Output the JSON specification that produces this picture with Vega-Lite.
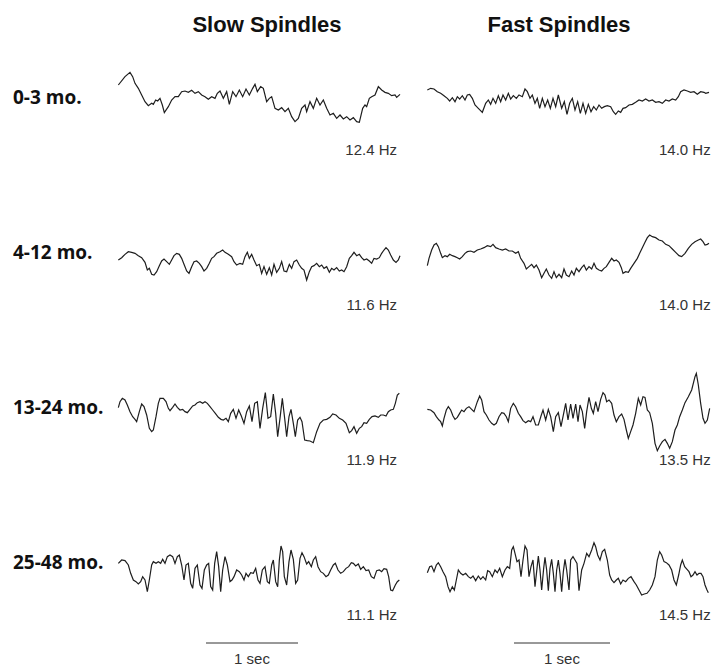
{
"$schema": "https://vega.github.io/schema/vega-lite/v6.json",
"background": "white",
"padding": {"left": 13, "top": 14, "right": 0, "bottom": 0},
"config": {"view": {"stroke": null}, "header": {"labelFont": "Liberation Sans", "labelFontWeight": "bold", "labelFontSize": 22, "labelPadding": 6, "labelColor": "#111"}},
"datasets": {"eeg": [
{"age":"0-3 mo.","band":"Slow","hz":"12.4 Hz"},
{"age":"0-3 mo.","band":"Fast","hz":"14.0 Hz"},
{"age":"4-12 mo.","band":"Slow","hz":"11.6 Hz"},
{"age":"4-12 mo.","band":"Fast","hz":"14.0 Hz"},
{"age":"13-24 mo.","band":"Slow","hz":"11.9 Hz"},
{"age":"13-24 mo.","band":"Fast","hz":"13.5 Hz"},
{"age":"25-48 mo.","band":"Slow","hz":"11.1 Hz"},
{"age":"25-48 mo.","band":"Fast","hz":"14.5 Hz"},
{"age":"25-48 mo.","band":"Slow","bar":"1 sec"},
{"age":"25-48 mo.","band":"Fast","bar":"1 sec"},
{"age":"0-3 mo.","band":"Slow","t":25,"v":39},{"age":"0-3 mo.","band":"Slow","t":45,"v":64},{"age":"0-3 mo.","band":"Slow","t":60,"v":77},{"age":"0-3 mo.","band":"Slow","t":68,"v":64},{"age":"0-3 mo.","band":"Slow","t":75,"v":44},{"age":"0-3 mo.","band":"Slow","t":85,"v":29},{"age":"0-3 mo.","band":"Slow","t":95,"v":9},{"age":"0-3 mo.","band":"Slow","t":105,"v":-11},{"age":"0-3 mo.","band":"Slow","t":115,"v":-23},{"age":"0-3 mo.","band":"Slow","t":125,"v":-16},{"age":"0-3 mo.","band":"Slow","t":130,"v":-19},{"age":"0-3 mo.","band":"Slow","t":137,"v":-6},{"age":"0-3 mo.","band":"Slow","t":143,"v":-9},{"age":"0-3 mo.","band":"Slow","t":150,"v":-1},{"age":"0-3 mo.","band":"Slow","t":157,"v":-21},{"age":"0-3 mo.","band":"Slow","t":163,"v":-44},{"age":"0-3 mo.","band":"Slow","t":175,"v":-26},{"age":"0-3 mo.","band":"Slow","t":185,"v":-6},{"age":"0-3 mo.","band":"Slow","t":195,"v":4},{"age":"0-3 mo.","band":"Slow","t":205,"v":4},{"age":"0-3 mo.","band":"Slow","t":215,"v":19},{"age":"0-3 mo.","band":"Slow","t":225,"v":21},{"age":"0-3 mo.","band":"Slow","t":235,"v":17},{"age":"0-3 mo.","band":"Slow","t":245,"v":23},{"age":"0-3 mo.","band":"Slow","t":255,"v":14},{"age":"0-3 mo.","band":"Slow","t":265,"v":19},{"age":"0-3 mo.","band":"Slow","t":275,"v":9},{"age":"0-3 mo.","band":"Slow","t":285,"v":4},{"age":"0-3 mo.","band":"Slow","t":295,"v":-4},{"age":"0-3 mo.","band":"Slow","t":305,"v":4},{"age":"0-3 mo.","band":"Slow","t":315,"v":-1},{"age":"0-3 mo.","band":"Slow","t":322,"v":14},{"age":"0-3 mo.","band":"Slow","t":330,"v":21},{"age":"0-3 mo.","band":"Slow","t":340,"v":-1},{"age":"0-3 mo.","band":"Slow","t":350,"v":19},{"age":"0-3 mo.","band":"Slow","t":358,"v":-19},{"age":"0-3 mo.","band":"Slow","t":368,"v":19},{"age":"0-3 mo.","band":"Slow","t":378,"v":4},{"age":"0-3 mo.","band":"Slow","t":388,"v":24},{"age":"0-3 mo.","band":"Slow","t":398,"v":4},{"age":"0-3 mo.","band":"Slow","t":408,"v":27},{"age":"0-3 mo.","band":"Slow","t":418,"v":9},{"age":"0-3 mo.","band":"Slow","t":428,"v":29},{"age":"0-3 mo.","band":"Slow","t":435,"v":41},{"age":"0-3 mo.","band":"Slow","t":442,"v":19},{"age":"0-3 mo.","band":"Slow","t":452,"v":34},{"age":"0-3 mo.","band":"Slow","t":460,"v":29},{"age":"0-3 mo.","band":"Slow","t":470,"v":-11},{"age":"0-3 mo.","band":"Slow","t":478,"v":-1},{"age":"0-3 mo.","band":"Slow","t":485,"v":4},{"age":"0-3 mo.","band":"Slow","t":495,"v":-31},{"age":"0-3 mo.","band":"Slow","t":505,"v":-36},{"age":"0-3 mo.","band":"Slow","t":515,"v":-29},{"age":"0-3 mo.","band":"Slow","t":525,"v":-41},{"age":"0-3 mo.","band":"Slow","t":535,"v":-31},{"age":"0-3 mo.","band":"Slow","t":545,"v":-56},{"age":"0-3 mo.","band":"Slow","t":555,"v":-71},{"age":"0-3 mo.","band":"Slow","t":565,"v":-61},{"age":"0-3 mo.","band":"Slow","t":575,"v":-31},{"age":"0-3 mo.","band":"Slow","t":585,"v":-21},{"age":"0-3 mo.","band":"Slow","t":590,"v":-41},{"age":"0-3 mo.","band":"Slow","t":600,"v":-11},{"age":"0-3 mo.","band":"Slow","t":610,"v":-31},{"age":"0-3 mo.","band":"Slow","t":620,"v":-1},{"age":"0-3 mo.","band":"Slow","t":630,"v":-21},{"age":"0-3 mo.","band":"Slow","t":640,"v":-6},{"age":"0-3 mo.","band":"Slow","t":650,"v":-31},{"age":"0-3 mo.","band":"Slow","t":660,"v":-51},{"age":"0-3 mo.","band":"Slow","t":670,"v":-46},{"age":"0-3 mo.","band":"Slow","t":680,"v":-61},{"age":"0-3 mo.","band":"Slow","t":690,"v":-51},{"age":"0-3 mo.","band":"Slow","t":700,"v":-63},{"age":"0-3 mo.","band":"Slow","t":710,"v":-56},{"age":"0-3 mo.","band":"Slow","t":720,"v":-66},{"age":"0-3 mo.","band":"Slow","t":730,"v":-59},{"age":"0-3 mo.","band":"Slow","t":740,"v":-71},{"age":"0-3 mo.","band":"Slow","t":748,"v":-73},{"age":"0-3 mo.","band":"Slow","t":758,"v":-31},{"age":"0-3 mo.","band":"Slow","t":765,"v":-21},{"age":"0-3 mo.","band":"Slow","t":770,"v":-26},{"age":"0-3 mo.","band":"Slow","t":778,"v":-1},{"age":"0-3 mo.","band":"Slow","t":785,"v":4},{"age":"0-3 mo.","band":"Slow","t":795,"v":9},{"age":"0-3 mo.","band":"Slow","t":805,"v":34},{"age":"0-3 mo.","band":"Slow","t":815,"v":24},{"age":"0-3 mo.","band":"Slow","t":825,"v":17},{"age":"0-3 mo.","band":"Slow","t":835,"v":14},{"age":"0-3 mo.","band":"Slow","t":845,"v":7},{"age":"0-3 mo.","band":"Slow","t":855,"v":9},{"age":"0-3 mo.","band":"Slow","t":860,"v":2},{"age":"0-3 mo.","band":"Slow","t":870,"v":11},
{"age":"0-3 mo.","band":"Fast","t":25,"v":24},{"age":"0-3 mo.","band":"Fast","t":35,"v":29},{"age":"0-3 mo.","band":"Fast","t":45,"v":27},{"age":"0-3 mo.","band":"Fast","t":55,"v":19},{"age":"0-3 mo.","band":"Fast","t":65,"v":14},{"age":"0-3 mo.","band":"Fast","t":75,"v":7},{"age":"0-3 mo.","band":"Fast","t":85,"v":-1},{"age":"0-3 mo.","band":"Fast","t":92,"v":-9},{"age":"0-3 mo.","band":"Fast","t":100,"v":1},{"age":"0-3 mo.","band":"Fast","t":108,"v":-11},{"age":"0-3 mo.","band":"Fast","t":115,"v":4},{"age":"0-3 mo.","band":"Fast","t":122,"v":-3},{"age":"0-3 mo.","band":"Fast","t":130,"v":7},{"age":"0-3 mo.","band":"Fast","t":138,"v":-6},{"age":"0-3 mo.","band":"Fast","t":145,"v":9},{"age":"0-3 mo.","band":"Fast","t":152,"v":11},{"age":"0-3 mo.","band":"Fast","t":160,"v":-1},{"age":"0-3 mo.","band":"Fast","t":168,"v":-21},{"age":"0-3 mo.","band":"Fast","t":178,"v":-31},{"age":"0-3 mo.","band":"Fast","t":190,"v":-43},{"age":"0-3 mo.","band":"Fast","t":200,"v":-16},{"age":"0-3 mo.","band":"Fast","t":208,"v":-6},{"age":"0-3 mo.","band":"Fast","t":215,"v":-19},{"age":"0-3 mo.","band":"Fast","t":222,"v":-1},{"age":"0-3 mo.","band":"Fast","t":230,"v":-16},{"age":"0-3 mo.","band":"Fast","t":238,"v":7},{"age":"0-3 mo.","band":"Fast","t":245,"v":-11},{"age":"0-3 mo.","band":"Fast","t":252,"v":9},{"age":"0-3 mo.","band":"Fast","t":260,"v":-6},{"age":"0-3 mo.","band":"Fast","t":268,"v":14},{"age":"0-3 mo.","band":"Fast","t":275,"v":-3},{"age":"0-3 mo.","band":"Fast","t":283,"v":7},{"age":"0-3 mo.","band":"Fast","t":292,"v":-1},{"age":"0-3 mo.","band":"Fast","t":300,"v":9},{"age":"0-3 mo.","band":"Fast","t":310,"v":4},{"age":"0-3 mo.","band":"Fast","t":318,"v":27},{"age":"0-3 mo.","band":"Fast","t":325,"v":19},{"age":"0-3 mo.","band":"Fast","t":333,"v":-1},{"age":"0-3 mo.","band":"Fast","t":340,"v":9},{"age":"0-3 mo.","band":"Fast","t":348,"v":-16},{"age":"0-3 mo.","band":"Fast","t":355,"v":-1},{"age":"0-3 mo.","band":"Fast","t":362,"v":-31},{"age":"0-3 mo.","band":"Fast","t":370,"v":-1},{"age":"0-3 mo.","band":"Fast","t":378,"v":-26},{"age":"0-3 mo.","band":"Fast","t":386,"v":-6},{"age":"0-3 mo.","band":"Fast","t":394,"v":-31},{"age":"0-3 mo.","band":"Fast","t":402,"v":-1},{"age":"0-3 mo.","band":"Fast","t":410,"v":-26},{"age":"0-3 mo.","band":"Fast","t":418,"v":9},{"age":"0-3 mo.","band":"Fast","t":428,"v":-31},{"age":"0-3 mo.","band":"Fast","t":436,"v":-11},{"age":"0-3 mo.","band":"Fast","t":444,"v":-49},{"age":"0-3 mo.","band":"Fast","t":452,"v":-16},{"age":"0-3 mo.","band":"Fast","t":460,"v":-1},{"age":"0-3 mo.","band":"Fast","t":468,"v":-36},{"age":"0-3 mo.","band":"Fast","t":476,"v":-11},{"age":"0-3 mo.","band":"Fast","t":484,"v":-46},{"age":"0-3 mo.","band":"Fast","t":492,"v":-16},{"age":"0-3 mo.","band":"Fast","t":500,"v":-46},{"age":"0-3 mo.","band":"Fast","t":508,"v":-19},{"age":"0-3 mo.","band":"Fast","t":516,"v":-41},{"age":"0-3 mo.","band":"Fast","t":524,"v":-26},{"age":"0-3 mo.","band":"Fast","t":532,"v":-36},{"age":"0-3 mo.","band":"Fast","t":540,"v":-21},{"age":"0-3 mo.","band":"Fast","t":548,"v":-31},{"age":"0-3 mo.","band":"Fast","t":556,"v":-26},{"age":"0-3 mo.","band":"Fast","t":565,"v":-23},{"age":"0-3 mo.","band":"Fast","t":575,"v":-26},{"age":"0-3 mo.","band":"Fast","t":583,"v":-41},{"age":"0-3 mo.","band":"Fast","t":590,"v":-49},{"age":"0-3 mo.","band":"Fast","t":598,"v":-39},{"age":"0-3 mo.","band":"Fast","t":605,"v":-43},{"age":"0-3 mo.","band":"Fast","t":612,"v":-31},{"age":"0-3 mo.","band":"Fast","t":620,"v":-29},{"age":"0-3 mo.","band":"Fast","t":630,"v":-21},{"age":"0-3 mo.","band":"Fast","t":640,"v":-19},{"age":"0-3 mo.","band":"Fast","t":650,"v":-13},{"age":"0-3 mo.","band":"Fast","t":660,"v":-6},{"age":"0-3 mo.","band":"Fast","t":670,"v":-9},{"age":"0-3 mo.","band":"Fast","t":680,"v":-3},{"age":"0-3 mo.","band":"Fast","t":690,"v":-9},{"age":"0-3 mo.","band":"Fast","t":700,"v":-6},{"age":"0-3 mo.","band":"Fast","t":710,"v":-13},{"age":"0-3 mo.","band":"Fast","t":720,"v":-11},{"age":"0-3 mo.","band":"Fast","t":730,"v":-16},{"age":"0-3 mo.","band":"Fast","t":740,"v":-6},{"age":"0-3 mo.","band":"Fast","t":750,"v":-9},{"age":"0-3 mo.","band":"Fast","t":760,"v":-3},{"age":"0-3 mo.","band":"Fast","t":770,"v":-6},{"age":"0-3 mo.","band":"Fast","t":778,"v":4},{"age":"0-3 mo.","band":"Fast","t":785,"v":19},{"age":"0-3 mo.","band":"Fast","t":795,"v":24},{"age":"0-3 mo.","band":"Fast","t":805,"v":21},{"age":"0-3 mo.","band":"Fast","t":815,"v":17},{"age":"0-3 mo.","band":"Fast","t":825,"v":19},{"age":"0-3 mo.","band":"Fast","t":835,"v":11},{"age":"0-3 mo.","band":"Fast","t":845,"v":19},{"age":"0-3 mo.","band":"Fast","t":855,"v":17},{"age":"0-3 mo.","band":"Fast","t":860,"v":14},{"age":"0-3 mo.","band":"Fast","t":870,"v":17},
{"age":"4-12 mo.","band":"Slow","t":25,"v":-21},{"age":"4-12 mo.","band":"Slow","t":35,"v":-14},{"age":"4-12 mo.","band":"Slow","t":45,"v":-4},{"age":"4-12 mo.","band":"Slow","t":55,"v":4},{"age":"4-12 mo.","band":"Slow","t":65,"v":2},{"age":"4-12 mo.","band":"Slow","t":75,"v":-1},{"age":"4-12 mo.","band":"Slow","t":85,"v":-8},{"age":"4-12 mo.","band":"Slow","t":95,"v":-14},{"age":"4-12 mo.","band":"Slow","t":105,"v":-28},{"age":"4-12 mo.","band":"Slow","t":112,"v":-51},{"age":"4-12 mo.","band":"Slow","t":118,"v":-46},{"age":"4-12 mo.","band":"Slow","t":125,"v":-64},{"age":"4-12 mo.","band":"Slow","t":132,"v":-66},{"age":"4-12 mo.","band":"Slow","t":140,"v":-56},{"age":"4-12 mo.","band":"Slow","t":148,"v":-38},{"age":"4-12 mo.","band":"Slow","t":155,"v":-24},{"age":"4-12 mo.","band":"Slow","t":162,"v":-18},{"age":"4-12 mo.","band":"Slow","t":170,"v":-26},{"age":"4-12 mo.","band":"Slow","t":178,"v":-34},{"age":"4-12 mo.","band":"Slow","t":185,"v":-21},{"age":"4-12 mo.","band":"Slow","t":192,"v":-8},{"age":"4-12 mo.","band":"Slow","t":200,"v":-1},{"age":"4-12 mo.","band":"Slow","t":208,"v":-4},{"age":"4-12 mo.","band":"Slow","t":215,"v":-16},{"age":"4-12 mo.","band":"Slow","t":222,"v":-34},{"age":"4-12 mo.","band":"Slow","t":230,"v":-54},{"age":"4-12 mo.","band":"Slow","t":237,"v":-61},{"age":"4-12 mo.","band":"Slow","t":245,"v":-41},{"age":"4-12 mo.","band":"Slow","t":252,"v":-26},{"age":"4-12 mo.","band":"Slow","t":260,"v":-24},{"age":"4-12 mo.","band":"Slow","t":268,"v":-31},{"age":"4-12 mo.","band":"Slow","t":275,"v":-41},{"age":"4-12 mo.","band":"Slow","t":282,"v":-54},{"age":"4-12 mo.","band":"Slow","t":290,"v":-46},{"age":"4-12 mo.","band":"Slow","t":298,"v":-31},{"age":"4-12 mo.","band":"Slow","t":305,"v":-16},{"age":"4-12 mo.","band":"Slow","t":312,"v":-11},{"age":"4-12 mo.","band":"Slow","t":320,"v":-1},{"age":"4-12 mo.","band":"Slow","t":330,"v":4},{"age":"4-12 mo.","band":"Slow","t":338,"v":9},{"age":"4-12 mo.","band":"Slow","t":345,"v":2},{"age":"4-12 mo.","band":"Slow","t":355,"v":-4},{"age":"4-12 mo.","band":"Slow","t":365,"v":-11},{"age":"4-12 mo.","band":"Slow","t":372,"v":-26},{"age":"4-12 mo.","band":"Slow","t":380,"v":-36},{"age":"4-12 mo.","band":"Slow","t":390,"v":-31},{"age":"4-12 mo.","band":"Slow","t":398,"v":-34},{"age":"4-12 mo.","band":"Slow","t":405,"v":-11},{"age":"4-12 mo.","band":"Slow","t":412,"v":2},{"age":"4-12 mo.","band":"Slow","t":418,"v":-16},{"age":"4-12 mo.","band":"Slow","t":425,"v":-4},{"age":"4-12 mo.","band":"Slow","t":432,"v":-21},{"age":"4-12 mo.","band":"Slow","t":440,"v":-38},{"age":"4-12 mo.","band":"Slow","t":448,"v":-34},{"age":"4-12 mo.","band":"Slow","t":455,"v":-61},{"age":"4-12 mo.","band":"Slow","t":462,"v":-41},{"age":"4-12 mo.","band":"Slow","t":470,"v":-64},{"age":"4-12 mo.","band":"Slow","t":478,"v":-44},{"age":"4-12 mo.","band":"Slow","t":485,"v":-66},{"age":"4-12 mo.","band":"Slow","t":492,"v":-34},{"age":"4-12 mo.","band":"Slow","t":500,"v":-58},{"age":"4-12 mo.","band":"Slow","t":508,"v":-46},{"age":"4-12 mo.","band":"Slow","t":515,"v":-26},{"age":"4-12 mo.","band":"Slow","t":522,"v":-54},{"age":"4-12 mo.","band":"Slow","t":530,"v":-56},{"age":"4-12 mo.","band":"Slow","t":538,"v":-34},{"age":"4-12 mo.","band":"Slow","t":545,"v":-46},{"age":"4-12 mo.","band":"Slow","t":552,"v":-26},{"age":"4-12 mo.","band":"Slow","t":560,"v":-21},{"age":"4-12 mo.","band":"Slow","t":568,"v":-36},{"age":"4-12 mo.","band":"Slow","t":575,"v":-46},{"age":"4-12 mo.","band":"Slow","t":582,"v":-51},{"age":"4-12 mo.","band":"Slow","t":590,"v":-81},{"age":"4-12 mo.","band":"Slow","t":598,"v":-56},{"age":"4-12 mo.","band":"Slow","t":605,"v":-41},{"age":"4-12 mo.","band":"Slow","t":612,"v":-38},{"age":"4-12 mo.","band":"Slow","t":620,"v":-31},{"age":"4-12 mo.","band":"Slow","t":628,"v":-41},{"age":"4-12 mo.","band":"Slow","t":635,"v":-36},{"age":"4-12 mo.","band":"Slow","t":642,"v":-46},{"age":"4-12 mo.","band":"Slow","t":650,"v":-41},{"age":"4-12 mo.","band":"Slow","t":658,"v":-58},{"age":"4-12 mo.","band":"Slow","t":665,"v":-46},{"age":"4-12 mo.","band":"Slow","t":672,"v":-51},{"age":"4-12 mo.","band":"Slow","t":680,"v":-44},{"age":"4-12 mo.","band":"Slow","t":688,"v":-54},{"age":"4-12 mo.","band":"Slow","t":695,"v":-51},{"age":"4-12 mo.","band":"Slow","t":702,"v":-56},{"age":"4-12 mo.","band":"Slow","t":710,"v":-41},{"age":"4-12 mo.","band":"Slow","t":718,"v":-16},{"age":"4-12 mo.","band":"Slow","t":725,"v":-8},{"age":"4-12 mo.","band":"Slow","t":732,"v":2},{"age":"4-12 mo.","band":"Slow","t":740,"v":-8},{"age":"4-12 mo.","band":"Slow","t":748,"v":-4},{"age":"4-12 mo.","band":"Slow","t":755,"v":-14},{"age":"4-12 mo.","band":"Slow","t":762,"v":-21},{"age":"4-12 mo.","band":"Slow","t":770,"v":-18},{"age":"4-12 mo.","band":"Slow","t":778,"v":-24},{"age":"4-12 mo.","band":"Slow","t":785,"v":-31},{"age":"4-12 mo.","band":"Slow","t":792,"v":-16},{"age":"4-12 mo.","band":"Slow","t":800,"v":-18},{"age":"4-12 mo.","band":"Slow","t":808,"v":-14},{"age":"4-12 mo.","band":"Slow","t":815,"v":-1},{"age":"4-12 mo.","band":"Slow","t":822,"v":9},{"age":"4-12 mo.","band":"Slow","t":828,"v":16},{"age":"4-12 mo.","band":"Slow","t":835,"v":9},{"age":"4-12 mo.","band":"Slow","t":842,"v":-6},{"age":"4-12 mo.","band":"Slow","t":850,"v":-21},{"age":"4-12 mo.","band":"Slow","t":858,"v":-28},{"age":"4-12 mo.","band":"Slow","t":865,"v":-21},{"age":"4-12 mo.","band":"Slow","t":870,"v":-8},
{"age":"4-12 mo.","band":"Fast","t":25,"v":-38},{"age":"4-12 mo.","band":"Fast","t":30,"v":-16},{"age":"4-12 mo.","band":"Fast","t":38,"v":9},{"age":"4-12 mo.","band":"Fast","t":45,"v":24},{"age":"4-12 mo.","band":"Fast","t":52,"v":29},{"age":"4-12 mo.","band":"Fast","t":58,"v":19},{"age":"4-12 mo.","band":"Fast","t":65,"v":-1},{"age":"4-12 mo.","band":"Fast","t":70,"v":-14},{"age":"4-12 mo.","band":"Fast","t":78,"v":-8},{"age":"4-12 mo.","band":"Fast","t":85,"v":-11},{"age":"4-12 mo.","band":"Fast","t":92,"v":-4},{"age":"4-12 mo.","band":"Fast","t":100,"v":-8},{"age":"4-12 mo.","band":"Fast","t":108,"v":-11},{"age":"4-12 mo.","band":"Fast","t":115,"v":-14},{"age":"4-12 mo.","band":"Fast","t":122,"v":-18},{"age":"4-12 mo.","band":"Fast","t":130,"v":-11},{"age":"4-12 mo.","band":"Fast","t":138,"v":-1},{"age":"4-12 mo.","band":"Fast","t":145,"v":4},{"age":"4-12 mo.","band":"Fast","t":155,"v":6},{"age":"4-12 mo.","band":"Fast","t":165,"v":2},{"age":"4-12 mo.","band":"Fast","t":175,"v":9},{"age":"4-12 mo.","band":"Fast","t":185,"v":12},{"age":"4-12 mo.","band":"Fast","t":195,"v":16},{"age":"4-12 mo.","band":"Fast","t":205,"v":22},{"age":"4-12 mo.","band":"Fast","t":215,"v":19},{"age":"4-12 mo.","band":"Fast","t":222,"v":26},{"age":"4-12 mo.","band":"Fast","t":230,"v":16},{"age":"4-12 mo.","band":"Fast","t":240,"v":12},{"age":"4-12 mo.","band":"Fast","t":250,"v":9},{"age":"4-12 mo.","band":"Fast","t":260,"v":12},{"age":"4-12 mo.","band":"Fast","t":270,"v":6},{"age":"4-12 mo.","band":"Fast","t":280,"v":6},{"age":"4-12 mo.","band":"Fast","t":290,"v":-1},{"age":"4-12 mo.","band":"Fast","t":298,"v":4},{"age":"4-12 mo.","band":"Fast","t":305,"v":-16},{"age":"4-12 mo.","band":"Fast","t":315,"v":-31},{"age":"4-12 mo.","band":"Fast","t":322,"v":-48},{"age":"4-12 mo.","band":"Fast","t":330,"v":-41},{"age":"4-12 mo.","band":"Fast","t":338,"v":-34},{"age":"4-12 mo.","band":"Fast","t":345,"v":-44},{"age":"4-12 mo.","band":"Fast","t":352,"v":-36},{"age":"4-12 mo.","band":"Fast","t":360,"v":-51},{"age":"4-12 mo.","band":"Fast","t":368,"v":-74},{"age":"4-12 mo.","band":"Fast","t":375,"v":-61},{"age":"4-12 mo.","band":"Fast","t":382,"v":-48},{"age":"4-12 mo.","band":"Fast","t":390,"v":-66},{"age":"4-12 mo.","band":"Fast","t":398,"v":-76},{"age":"4-12 mo.","band":"Fast","t":405,"v":-56},{"age":"4-12 mo.","band":"Fast","t":412,"v":-74},{"age":"4-12 mo.","band":"Fast","t":420,"v":-64},{"age":"4-12 mo.","band":"Fast","t":428,"v":-74},{"age":"4-12 mo.","band":"Fast","t":435,"v":-48},{"age":"4-12 mo.","band":"Fast","t":442,"v":-66},{"age":"4-12 mo.","band":"Fast","t":450,"v":-71},{"age":"4-12 mo.","band":"Fast","t":458,"v":-54},{"age":"4-12 mo.","band":"Fast","t":465,"v":-66},{"age":"4-12 mo.","band":"Fast","t":472,"v":-46},{"age":"4-12 mo.","band":"Fast","t":480,"v":-56},{"age":"4-12 mo.","band":"Fast","t":488,"v":-44},{"age":"4-12 mo.","band":"Fast","t":495,"v":-36},{"age":"4-12 mo.","band":"Fast","t":502,"v":-51},{"age":"4-12 mo.","band":"Fast","t":510,"v":-41},{"age":"4-12 mo.","band":"Fast","t":518,"v":-48},{"age":"4-12 mo.","band":"Fast","t":525,"v":-31},{"age":"4-12 mo.","band":"Fast","t":532,"v":-46},{"age":"4-12 mo.","band":"Fast","t":540,"v":-51},{"age":"4-12 mo.","band":"Fast","t":548,"v":-54},{"age":"4-12 mo.","band":"Fast","t":555,"v":-46},{"age":"4-12 mo.","band":"Fast","t":562,"v":-41},{"age":"4-12 mo.","band":"Fast","t":570,"v":-28},{"age":"4-12 mo.","band":"Fast","t":578,"v":-16},{"age":"4-12 mo.","band":"Fast","t":585,"v":-24},{"age":"4-12 mo.","band":"Fast","t":592,"v":-21},{"age":"4-12 mo.","band":"Fast","t":600,"v":-28},{"age":"4-12 mo.","band":"Fast","t":607,"v":-44},{"age":"4-12 mo.","band":"Fast","t":612,"v":-61},{"age":"4-12 mo.","band":"Fast","t":620,"v":-56},{"age":"4-12 mo.","band":"Fast","t":628,"v":-58},{"age":"4-12 mo.","band":"Fast","t":635,"v":-46},{"age":"4-12 mo.","band":"Fast","t":645,"v":-31},{"age":"4-12 mo.","band":"Fast","t":655,"v":-16},{"age":"4-12 mo.","band":"Fast","t":662,"v":-1},{"age":"4-12 mo.","band":"Fast","t":670,"v":16},{"age":"4-12 mo.","band":"Fast","t":678,"v":32},{"age":"4-12 mo.","band":"Fast","t":685,"v":46},{"age":"4-12 mo.","band":"Fast","t":692,"v":54},{"age":"4-12 mo.","band":"Fast","t":700,"v":49},{"age":"4-12 mo.","band":"Fast","t":710,"v":46},{"age":"4-12 mo.","band":"Fast","t":720,"v":39},{"age":"4-12 mo.","band":"Fast","t":730,"v":36},{"age":"4-12 mo.","band":"Fast","t":740,"v":26},{"age":"4-12 mo.","band":"Fast","t":750,"v":22},{"age":"4-12 mo.","band":"Fast","t":760,"v":12},{"age":"4-12 mo.","band":"Fast","t":770,"v":2},{"age":"4-12 mo.","band":"Fast","t":780,"v":-8},{"age":"4-12 mo.","band":"Fast","t":788,"v":-11},{"age":"4-12 mo.","band":"Fast","t":798,"v":-1},{"age":"4-12 mo.","band":"Fast","t":808,"v":14},{"age":"4-12 mo.","band":"Fast","t":818,"v":26},{"age":"4-12 mo.","band":"Fast","t":828,"v":34},{"age":"4-12 mo.","band":"Fast","t":838,"v":39},{"age":"4-12 mo.","band":"Fast","t":845,"v":42},{"age":"4-12 mo.","band":"Fast","t":852,"v":34},{"age":"4-12 mo.","band":"Fast","t":858,"v":24},{"age":"4-12 mo.","band":"Fast","t":865,"v":26},{"age":"4-12 mo.","band":"Fast","t":870,"v":29},
{"age":"13-24 mo.","band":"Slow","t":25,"v":1},{"age":"13-24 mo.","band":"Slow","t":30,"v":19},{"age":"13-24 mo.","band":"Slow","t":37,"v":29},{"age":"13-24 mo.","band":"Slow","t":45,"v":24},{"age":"13-24 mo.","band":"Slow","t":52,"v":9},{"age":"13-24 mo.","band":"Slow","t":60,"v":-11},{"age":"13-24 mo.","band":"Slow","t":68,"v":-26},{"age":"13-24 mo.","band":"Slow","t":75,"v":-34},{"age":"13-24 mo.","band":"Slow","t":80,"v":-41},{"age":"13-24 mo.","band":"Slow","t":88,"v":-11},{"age":"13-24 mo.","band":"Slow","t":95,"v":12},{"age":"13-24 mo.","band":"Slow","t":102,"v":4},{"age":"13-24 mo.","band":"Slow","t":110,"v":-21},{"age":"13-24 mo.","band":"Slow","t":118,"v":-61},{"age":"13-24 mo.","band":"Slow","t":125,"v":-71},{"age":"13-24 mo.","band":"Slow","t":130,"v":-66},{"age":"13-24 mo.","band":"Slow","t":138,"v":-26},{"age":"13-24 mo.","band":"Slow","t":145,"v":14},{"age":"13-24 mo.","band":"Slow","t":150,"v":29},{"age":"13-24 mo.","band":"Slow","t":160,"v":29},{"age":"13-24 mo.","band":"Slow","t":168,"v":19},{"age":"13-24 mo.","band":"Slow","t":175,"v":-1},{"age":"13-24 mo.","band":"Slow","t":180,"v":-8},{"age":"13-24 mo.","band":"Slow","t":188,"v":2},{"age":"13-24 mo.","band":"Slow","t":195,"v":12},{"age":"13-24 mo.","band":"Slow","t":202,"v":2},{"age":"13-24 mo.","band":"Slow","t":210,"v":-6},{"age":"13-24 mo.","band":"Slow","t":218,"v":-4},{"age":"13-24 mo.","band":"Slow","t":225,"v":-11},{"age":"13-24 mo.","band":"Slow","t":232,"v":-14},{"age":"13-24 mo.","band":"Slow","t":240,"v":-4},{"age":"13-24 mo.","band":"Slow","t":248,"v":6},{"age":"13-24 mo.","band":"Slow","t":255,"v":9},{"age":"13-24 mo.","band":"Slow","t":262,"v":16},{"age":"13-24 mo.","band":"Slow","t":270,"v":19},{"age":"13-24 mo.","band":"Slow","t":278,"v":14},{"age":"13-24 mo.","band":"Slow","t":285,"v":19},{"age":"13-24 mo.","band":"Slow","t":292,"v":14},{"age":"13-24 mo.","band":"Slow","t":300,"v":4},{"age":"13-24 mo.","band":"Slow","t":308,"v":-6},{"age":"13-24 mo.","band":"Slow","t":316,"v":-16},{"age":"13-24 mo.","band":"Slow","t":325,"v":-28},{"age":"13-24 mo.","band":"Slow","t":333,"v":-34},{"age":"13-24 mo.","band":"Slow","t":340,"v":-36},{"age":"13-24 mo.","band":"Slow","t":348,"v":-31},{"age":"13-24 mo.","band":"Slow","t":355,"v":-41},{"age":"13-24 mo.","band":"Slow","t":362,"v":-16},{"age":"13-24 mo.","band":"Slow","t":370,"v":-4},{"age":"13-24 mo.","band":"Slow","t":378,"v":-31},{"age":"13-24 mo.","band":"Slow","t":386,"v":-6},{"age":"13-24 mo.","band":"Slow","t":394,"v":-24},{"age":"13-24 mo.","band":"Slow","t":402,"v":-46},{"age":"13-24 mo.","band":"Slow","t":410,"v":-11},{"age":"13-24 mo.","band":"Slow","t":418,"v":6},{"age":"13-24 mo.","band":"Slow","t":426,"v":-41},{"age":"13-24 mo.","band":"Slow","t":434,"v":14},{"age":"13-24 mo.","band":"Slow","t":442,"v":19},{"age":"13-24 mo.","band":"Slow","t":450,"v":-61},{"age":"13-24 mo.","band":"Slow","t":458,"v":-1},{"age":"13-24 mo.","band":"Slow","t":466,"v":46},{"age":"13-24 mo.","band":"Slow","t":474,"v":-31},{"age":"13-24 mo.","band":"Slow","t":482,"v":-26},{"age":"13-24 mo.","band":"Slow","t":490,"v":42},{"age":"13-24 mo.","band":"Slow","t":497,"v":-16},{"age":"13-24 mo.","band":"Slow","t":503,"v":-86},{"age":"13-24 mo.","band":"Slow","t":510,"v":-31},{"age":"13-24 mo.","band":"Slow","t":517,"v":29},{"age":"13-24 mo.","band":"Slow","t":524,"v":-31},{"age":"13-24 mo.","band":"Slow","t":530,"v":-86},{"age":"13-24 mo.","band":"Slow","t":537,"v":-26},{"age":"13-24 mo.","band":"Slow","t":543,"v":-4},{"age":"13-24 mo.","band":"Slow","t":550,"v":-46},{"age":"13-24 mo.","band":"Slow","t":556,"v":-86},{"age":"13-24 mo.","band":"Slow","t":563,"v":-36},{"age":"13-24 mo.","band":"Slow","t":570,"v":-28},{"age":"13-24 mo.","band":"Slow","t":576,"v":-41},{"age":"13-24 mo.","band":"Slow","t":584,"v":-96},{"age":"13-24 mo.","band":"Slow","t":592,"v":-98},{"age":"13-24 mo.","band":"Slow","t":600,"v":-99},{"age":"13-24 mo.","band":"Slow","t":610,"v":-104},{"age":"13-24 mo.","band":"Slow","t":620,"v":-71},{"age":"13-24 mo.","band":"Slow","t":630,"v":-46},{"age":"13-24 mo.","band":"Slow","t":640,"v":-36},{"age":"13-24 mo.","band":"Slow","t":650,"v":-34},{"age":"13-24 mo.","band":"Slow","t":660,"v":-28},{"age":"13-24 mo.","band":"Slow","t":668,"v":-18},{"age":"13-24 mo.","band":"Slow","t":678,"v":-21},{"age":"13-24 mo.","band":"Slow","t":688,"v":-31},{"age":"13-24 mo.","band":"Slow","t":698,"v":-36},{"age":"13-24 mo.","band":"Slow","t":708,"v":-46},{"age":"13-24 mo.","band":"Slow","t":718,"v":-74},{"age":"13-24 mo.","band":"Slow","t":725,"v":-68},{"age":"13-24 mo.","band":"Slow","t":732,"v":-56},{"age":"13-24 mo.","band":"Slow","t":740,"v":-76},{"age":"13-24 mo.","band":"Slow","t":748,"v":-61},{"age":"13-24 mo.","band":"Slow","t":755,"v":-56},{"age":"13-24 mo.","band":"Slow","t":762,"v":-44},{"age":"13-24 mo.","band":"Slow","t":770,"v":-46},{"age":"13-24 mo.","band":"Slow","t":778,"v":-34},{"age":"13-24 mo.","band":"Slow","t":786,"v":-26},{"age":"13-24 mo.","band":"Slow","t":795,"v":-24},{"age":"13-24 mo.","band":"Slow","t":805,"v":-28},{"age":"13-24 mo.","band":"Slow","t":812,"v":-21},{"age":"13-24 mo.","band":"Slow","t":820,"v":-21},{"age":"13-24 mo.","band":"Slow","t":828,"v":-24},{"age":"13-24 mo.","band":"Slow","t":835,"v":-11},{"age":"13-24 mo.","band":"Slow","t":842,"v":-6},{"age":"13-24 mo.","band":"Slow","t":850,"v":-4},{"age":"13-24 mo.","band":"Slow","t":856,"v":14},{"age":"13-24 mo.","band":"Slow","t":862,"v":39},{"age":"13-24 mo.","band":"Slow","t":868,"v":44},
{"age":"13-24 mo.","band":"Fast","t":25,"v":-4},{"age":"13-24 mo.","band":"Fast","t":35,"v":-6},{"age":"13-24 mo.","band":"Fast","t":45,"v":-14},{"age":"13-24 mo.","band":"Fast","t":52,"v":-26},{"age":"13-24 mo.","band":"Fast","t":60,"v":-36},{"age":"13-24 mo.","band":"Fast","t":65,"v":-41},{"age":"13-24 mo.","band":"Fast","t":70,"v":-54},{"age":"13-24 mo.","band":"Fast","t":75,"v":-31},{"age":"13-24 mo.","band":"Fast","t":82,"v":-6},{"age":"13-24 mo.","band":"Fast","t":88,"v":4},{"age":"13-24 mo.","band":"Fast","t":95,"v":-6},{"age":"13-24 mo.","band":"Fast","t":102,"v":-24},{"age":"13-24 mo.","band":"Fast","t":108,"v":-34},{"age":"13-24 mo.","band":"Fast","t":115,"v":-28},{"age":"13-24 mo.","band":"Fast","t":122,"v":-16},{"age":"13-24 mo.","band":"Fast","t":128,"v":-6},{"age":"13-24 mo.","band":"Fast","t":135,"v":-11},{"age":"13-24 mo.","band":"Fast","t":142,"v":-1},{"age":"13-24 mo.","band":"Fast","t":150,"v":4},{"age":"13-24 mo.","band":"Fast","t":158,"v":-4},{"age":"13-24 mo.","band":"Fast","t":165,"v":-11},{"age":"13-24 mo.","band":"Fast","t":170,"v":4},{"age":"13-24 mo.","band":"Fast","t":175,"v":19},{"age":"13-24 mo.","band":"Fast","t":182,"v":36},{"age":"13-24 mo.","band":"Fast","t":188,"v":24},{"age":"13-24 mo.","band":"Fast","t":195,"v":-11},{"age":"13-24 mo.","band":"Fast","t":202,"v":-21},{"age":"13-24 mo.","band":"Fast","t":210,"v":-36},{"age":"13-24 mo.","band":"Fast","t":218,"v":-46},{"age":"13-24 mo.","band":"Fast","t":225,"v":-51},{"age":"13-24 mo.","band":"Fast","t":232,"v":-46},{"age":"13-24 mo.","band":"Fast","t":240,"v":-26},{"age":"13-24 mo.","band":"Fast","t":248,"v":-14},{"age":"13-24 mo.","band":"Fast","t":255,"v":-16},{"age":"13-24 mo.","band":"Fast","t":262,"v":-26},{"age":"13-24 mo.","band":"Fast","t":268,"v":-41},{"age":"13-24 mo.","band":"Fast","t":275,"v":-1},{"age":"13-24 mo.","band":"Fast","t":283,"v":14},{"age":"13-24 mo.","band":"Fast","t":290,"v":4},{"age":"13-24 mo.","band":"Fast","t":298,"v":-16},{"age":"13-24 mo.","band":"Fast","t":305,"v":-26},{"age":"13-24 mo.","band":"Fast","t":312,"v":-38},{"age":"13-24 mo.","band":"Fast","t":320,"v":-44},{"age":"13-24 mo.","band":"Fast","t":328,"v":-38},{"age":"13-24 mo.","band":"Fast","t":335,"v":-41},{"age":"13-24 mo.","band":"Fast","t":342,"v":-26},{"age":"13-24 mo.","band":"Fast","t":350,"v":-51},{"age":"13-24 mo.","band":"Fast","t":358,"v":-51},{"age":"13-24 mo.","band":"Fast","t":366,"v":-24},{"age":"13-24 mo.","band":"Fast","t":372,"v":-6},{"age":"13-24 mo.","band":"Fast","t":380,"v":-36},{"age":"13-24 mo.","band":"Fast","t":388,"v":-4},{"age":"13-24 mo.","band":"Fast","t":395,"v":-26},{"age":"13-24 mo.","band":"Fast","t":403,"v":-71},{"age":"13-24 mo.","band":"Fast","t":410,"v":-26},{"age":"13-24 mo.","band":"Fast","t":418,"v":-14},{"age":"13-24 mo.","band":"Fast","t":426,"v":-56},{"age":"13-24 mo.","band":"Fast","t":434,"v":-16},{"age":"13-24 mo.","band":"Fast","t":440,"v":14},{"age":"13-24 mo.","band":"Fast","t":447,"v":-36},{"age":"13-24 mo.","band":"Fast","t":455,"v":12},{"age":"13-24 mo.","band":"Fast","t":462,"v":-31},{"age":"13-24 mo.","band":"Fast","t":470,"v":12},{"age":"13-24 mo.","band":"Fast","t":477,"v":-41},{"age":"13-24 mo.","band":"Fast","t":483,"v":9},{"age":"13-24 mo.","band":"Fast","t":490,"v":-11},{"age":"13-24 mo.","band":"Fast","t":497,"v":-61},{"age":"13-24 mo.","band":"Fast","t":503,"v":-11},{"age":"13-24 mo.","band":"Fast","t":510,"v":32},{"age":"13-24 mo.","band":"Fast","t":517,"v":-1},{"age":"13-24 mo.","band":"Fast","t":523,"v":-16},{"age":"13-24 mo.","band":"Fast","t":530,"v":19},{"age":"13-24 mo.","band":"Fast","t":537,"v":-11},{"age":"13-24 mo.","band":"Fast","t":545,"v":26},{"age":"13-24 mo.","band":"Fast","t":552,"v":46},{"age":"13-24 mo.","band":"Fast","t":558,"v":39},{"age":"13-24 mo.","band":"Fast","t":563,"v":19},{"age":"13-24 mo.","band":"Fast","t":570,"v":24},{"age":"13-24 mo.","band":"Fast","t":578,"v":14},{"age":"13-24 mo.","band":"Fast","t":585,"v":-21},{"age":"13-24 mo.","band":"Fast","t":592,"v":-41},{"age":"13-24 mo.","band":"Fast","t":600,"v":-26},{"age":"13-24 mo.","band":"Fast","t":608,"v":-18},{"age":"13-24 mo.","band":"Fast","t":615,"v":-34},{"age":"13-24 mo.","band":"Fast","t":622,"v":-66},{"age":"13-24 mo.","band":"Fast","t":628,"v":-91},{"age":"13-24 mo.","band":"Fast","t":635,"v":-71},{"age":"13-24 mo.","band":"Fast","t":642,"v":-51},{"age":"13-24 mo.","band":"Fast","t":650,"v":-16},{"age":"13-24 mo.","band":"Fast","t":658,"v":29},{"age":"13-24 mo.","band":"Fast","t":665,"v":9},{"age":"13-24 mo.","band":"Fast","t":672,"v":34},{"age":"13-24 mo.","band":"Fast","t":678,"v":32},{"age":"13-24 mo.","band":"Fast","t":685,"v":-6},{"age":"13-24 mo.","band":"Fast","t":692,"v":-14},{"age":"13-24 mo.","band":"Fast","t":700,"v":-46},{"age":"13-24 mo.","band":"Fast","t":708,"v":-106},{"age":"13-24 mo.","band":"Fast","t":715,"v":-128},{"age":"13-24 mo.","band":"Fast","t":722,"v":-114},{"age":"13-24 mo.","band":"Fast","t":730,"v":-101},{"age":"13-24 mo.","band":"Fast","t":738,"v":-94},{"age":"13-24 mo.","band":"Fast","t":745,"v":-106},{"age":"13-24 mo.","band":"Fast","t":752,"v":-121},{"age":"13-24 mo.","band":"Fast","t":760,"v":-101},{"age":"13-24 mo.","band":"Fast","t":768,"v":-66},{"age":"13-24 mo.","band":"Fast","t":775,"v":-51},{"age":"13-24 mo.","band":"Fast","t":782,"v":-26},{"age":"13-24 mo.","band":"Fast","t":790,"v":-6},{"age":"13-24 mo.","band":"Fast","t":798,"v":16},{"age":"13-24 mo.","band":"Fast","t":808,"v":34},{"age":"13-24 mo.","band":"Fast","t":818,"v":54},{"age":"13-24 mo.","band":"Fast","t":828,"v":94},{"age":"13-24 mo.","band":"Fast","t":832,"v":104},{"age":"13-24 mo.","band":"Fast","t":838,"v":69},{"age":"13-24 mo.","band":"Fast","t":845,"v":14},{"age":"13-24 mo.","band":"Fast","t":852,"v":-31},{"age":"13-24 mo.","band":"Fast","t":858,"v":-46},{"age":"13-24 mo.","band":"Fast","t":865,"v":-36},{"age":"13-24 mo.","band":"Fast","t":872,"v":-1},
{"age":"25-48 mo.","band":"Slow","t":25,"v":-1},{"age":"25-48 mo.","band":"Slow","t":35,"v":9},{"age":"25-48 mo.","band":"Slow","t":45,"v":7},{"age":"25-48 mo.","band":"Slow","t":55,"v":-6},{"age":"25-48 mo.","band":"Slow","t":62,"v":-31},{"age":"25-48 mo.","band":"Slow","t":70,"v":-51},{"age":"25-48 mo.","band":"Slow","t":78,"v":-56},{"age":"25-48 mo.","band":"Slow","t":85,"v":-63},{"age":"25-48 mo.","band":"Slow","t":92,"v":-56},{"age":"25-48 mo.","band":"Slow","t":98,"v":-41},{"age":"25-48 mo.","band":"Slow","t":105,"v":-51},{"age":"25-48 mo.","band":"Slow","t":112,"v":-86},{"age":"25-48 mo.","band":"Slow","t":118,"v":-51},{"age":"25-48 mo.","band":"Slow","t":125,"v":-6},{"age":"25-48 mo.","band":"Slow","t":130,"v":4},{"age":"25-48 mo.","band":"Slow","t":138,"v":-1},{"age":"25-48 mo.","band":"Slow","t":145,"v":4},{"age":"25-48 mo.","band":"Slow","t":152,"v":-1},{"age":"25-48 mo.","band":"Slow","t":158,"v":11},{"age":"25-48 mo.","band":"Slow","t":165,"v":-1},{"age":"25-48 mo.","band":"Slow","t":172,"v":19},{"age":"25-48 mo.","band":"Slow","t":180,"v":24},{"age":"25-48 mo.","band":"Slow","t":188,"v":19},{"age":"25-48 mo.","band":"Slow","t":195,"v":-1},{"age":"25-48 mo.","band":"Slow","t":202,"v":19},{"age":"25-48 mo.","band":"Slow","t":208,"v":24},{"age":"25-48 mo.","band":"Slow","t":215,"v":-6},{"age":"25-48 mo.","band":"Slow","t":222,"v":-51},{"age":"25-48 mo.","band":"Slow","t":228,"v":-6},{"age":"25-48 mo.","band":"Slow","t":235,"v":-1},{"age":"25-48 mo.","band":"Slow","t":242,"v":-61},{"age":"25-48 mo.","band":"Slow","t":248,"v":-76},{"age":"25-48 mo.","band":"Slow","t":255,"v":-16},{"age":"25-48 mo.","band":"Slow","t":262,"v":-6},{"age":"25-48 mo.","band":"Slow","t":270,"v":-66},{"age":"25-48 mo.","band":"Slow","t":276,"v":-76},{"age":"25-48 mo.","band":"Slow","t":283,"v":-21},{"age":"25-48 mo.","band":"Slow","t":290,"v":-6},{"age":"25-48 mo.","band":"Slow","t":296,"v":-1},{"age":"25-48 mo.","band":"Slow","t":302,"v":-71},{"age":"25-48 mo.","band":"Slow","t":308,"v":-81},{"age":"25-48 mo.","band":"Slow","t":314,"v":-1},{"age":"25-48 mo.","band":"Slow","t":320,"v":34},{"age":"25-48 mo.","band":"Slow","t":326,"v":-11},{"age":"25-48 mo.","band":"Slow","t":332,"v":-86},{"age":"25-48 mo.","band":"Slow","t":338,"v":-21},{"age":"25-48 mo.","band":"Slow","t":345,"v":19},{"age":"25-48 mo.","band":"Slow","t":352,"v":-6},{"age":"25-48 mo.","band":"Slow","t":360,"v":-56},{"age":"25-48 mo.","band":"Slow","t":366,"v":-51},{"age":"25-48 mo.","band":"Slow","t":372,"v":-41},{"age":"25-48 mo.","band":"Slow","t":380,"v":-21},{"age":"25-48 mo.","band":"Slow","t":388,"v":-26},{"age":"25-48 mo.","band":"Slow","t":395,"v":-36},{"age":"25-48 mo.","band":"Slow","t":402,"v":-51},{"age":"25-48 mo.","band":"Slow","t":408,"v":-31},{"age":"25-48 mo.","band":"Slow","t":415,"v":-41},{"age":"25-48 mo.","band":"Slow","t":422,"v":-29},{"age":"25-48 mo.","band":"Slow","t":430,"v":-31},{"age":"25-48 mo.","band":"Slow","t":437,"v":-16},{"age":"25-48 mo.","band":"Slow","t":444,"v":-51},{"age":"25-48 mo.","band":"Slow","t":450,"v":-61},{"age":"25-48 mo.","band":"Slow","t":457,"v":-21},{"age":"25-48 mo.","band":"Slow","t":465,"v":-11},{"age":"25-48 mo.","band":"Slow","t":472,"v":-56},{"age":"25-48 mo.","band":"Slow","t":478,"v":-61},{"age":"25-48 mo.","band":"Slow","t":485,"v":-6},{"age":"25-48 mo.","band":"Slow","t":490,"v":9},{"age":"25-48 mo.","band":"Slow","t":497,"v":-56},{"age":"25-48 mo.","band":"Slow","t":503,"v":-71},{"age":"25-48 mo.","band":"Slow","t":508,"v":9},{"age":"25-48 mo.","band":"Slow","t":513,"v":51},{"age":"25-48 mo.","band":"Slow","t":518,"v":34},{"age":"25-48 mo.","band":"Slow","t":523,"v":-41},{"age":"25-48 mo.","band":"Slow","t":530,"v":-66},{"age":"25-48 mo.","band":"Slow","t":537,"v":4},{"age":"25-48 mo.","band":"Slow","t":543,"v":39},{"age":"25-48 mo.","band":"Slow","t":550,"v":11},{"age":"25-48 mo.","band":"Slow","t":557,"v":-61},{"age":"25-48 mo.","band":"Slow","t":563,"v":-51},{"age":"25-48 mo.","band":"Slow","t":570,"v":14},{"age":"25-48 mo.","band":"Slow","t":576,"v":31},{"age":"25-48 mo.","band":"Slow","t":582,"v":19},{"age":"25-48 mo.","band":"Slow","t":590,"v":-3},{"age":"25-48 mo.","band":"Slow","t":596,"v":4},{"age":"25-48 mo.","band":"Slow","t":604,"v":-11},{"age":"25-48 mo.","band":"Slow","t":610,"v":9},{"age":"25-48 mo.","band":"Slow","t":617,"v":19},{"age":"25-48 mo.","band":"Slow","t":624,"v":-11},{"age":"25-48 mo.","band":"Slow","t":632,"v":-26},{"age":"25-48 mo.","band":"Slow","t":640,"v":-31},{"age":"25-48 mo.","band":"Slow","t":648,"v":-41},{"age":"25-48 mo.","band":"Slow","t":655,"v":-36},{"age":"25-48 mo.","band":"Slow","t":662,"v":-21},{"age":"25-48 mo.","band":"Slow","t":670,"v":-6},{"age":"25-48 mo.","band":"Slow","t":676,"v":-1},{"age":"25-48 mo.","band":"Slow","t":684,"v":-21},{"age":"25-48 mo.","band":"Slow","t":692,"v":-31},{"age":"25-48 mo.","band":"Slow","t":700,"v":-26},{"age":"25-48 mo.","band":"Slow","t":708,"v":-16},{"age":"25-48 mo.","band":"Slow","t":716,"v":-11},{"age":"25-48 mo.","band":"Slow","t":724,"v":1},{"age":"25-48 mo.","band":"Slow","t":730,"v":-1},{"age":"25-48 mo.","band":"Slow","t":737,"v":-9},{"age":"25-48 mo.","band":"Slow","t":745,"v":-3},{"age":"25-48 mo.","band":"Slow","t":752,"v":-19},{"age":"25-48 mo.","band":"Slow","t":760,"v":-11},{"age":"25-48 mo.","band":"Slow","t":768,"v":-23},{"age":"25-48 mo.","band":"Slow","t":776,"v":-21},{"age":"25-48 mo.","band":"Slow","t":784,"v":-41},{"age":"25-48 mo.","band":"Slow","t":792,"v":-46},{"age":"25-48 mo.","band":"Slow","t":800,"v":-23},{"age":"25-48 mo.","band":"Slow","t":808,"v":-21},{"age":"25-48 mo.","band":"Slow","t":815,"v":-26},{"age":"25-48 mo.","band":"Slow","t":822,"v":-17},{"age":"25-48 mo.","band":"Slow","t":830,"v":-19},{"age":"25-48 mo.","band":"Slow","t":836,"v":-41},{"age":"25-48 mo.","band":"Slow","t":842,"v":-81},{"age":"25-48 mo.","band":"Slow","t":848,"v":-83},{"age":"25-48 mo.","band":"Slow","t":856,"v":-66},{"age":"25-48 mo.","band":"Slow","t":862,"v":-56},{"age":"25-48 mo.","band":"Slow","t":868,"v":-51},
{"age":"25-48 mo.","band":"Fast","t":25,"v":-29},{"age":"25-48 mo.","band":"Fast","t":32,"v":-11},{"age":"25-48 mo.","band":"Fast","t":38,"v":-9},{"age":"25-48 mo.","band":"Fast","t":45,"v":-26},{"age":"25-48 mo.","band":"Fast","t":52,"v":-6},{"age":"25-48 mo.","band":"Fast","t":58,"v":1},{"age":"25-48 mo.","band":"Fast","t":65,"v":-11},{"age":"25-48 mo.","band":"Fast","t":72,"v":-26},{"age":"25-48 mo.","band":"Fast","t":80,"v":-41},{"age":"25-48 mo.","band":"Fast","t":87,"v":-71},{"age":"25-48 mo.","band":"Fast","t":93,"v":-86},{"age":"25-48 mo.","band":"Fast","t":100,"v":-71},{"age":"25-48 mo.","band":"Fast","t":106,"v":-81},{"age":"25-48 mo.","band":"Fast","t":112,"v":-51},{"age":"25-48 mo.","band":"Fast","t":118,"v":-21},{"age":"25-48 mo.","band":"Fast","t":125,"v":-31},{"age":"25-48 mo.","band":"Fast","t":132,"v":-36},{"age":"25-48 mo.","band":"Fast","t":140,"v":-31},{"age":"25-48 mo.","band":"Fast","t":148,"v":-41},{"age":"25-48 mo.","band":"Fast","t":155,"v":-46},{"age":"25-48 mo.","band":"Fast","t":162,"v":-39},{"age":"25-48 mo.","band":"Fast","t":170,"v":-53},{"age":"25-48 mo.","band":"Fast","t":178,"v":-39},{"age":"25-48 mo.","band":"Fast","t":185,"v":-49},{"age":"25-48 mo.","band":"Fast","t":192,"v":-41},{"age":"25-48 mo.","band":"Fast","t":200,"v":-51},{"age":"25-48 mo.","band":"Fast","t":206,"v":-23},{"age":"25-48 mo.","band":"Fast","t":212,"v":-26},{"age":"25-48 mo.","band":"Fast","t":220,"v":-41},{"age":"25-48 mo.","band":"Fast","t":228,"v":-21},{"age":"25-48 mo.","band":"Fast","t":235,"v":-29},{"age":"25-48 mo.","band":"Fast","t":242,"v":-16},{"age":"25-48 mo.","band":"Fast","t":250,"v":-41},{"age":"25-48 mo.","band":"Fast","t":258,"v":-21},{"age":"25-48 mo.","band":"Fast","t":265,"v":-11},{"age":"25-48 mo.","band":"Fast","t":272,"v":-16},{"age":"25-48 mo.","band":"Fast","t":278,"v":39},{"age":"25-48 mo.","band":"Fast","t":283,"v":49},{"age":"25-48 mo.","band":"Fast","t":288,"v":29},{"age":"25-48 mo.","band":"Fast","t":294,"v":4},{"age":"25-48 mo.","band":"Fast","t":300,"v":9},{"age":"25-48 mo.","band":"Fast","t":306,"v":-41},{"age":"25-48 mo.","band":"Fast","t":312,"v":9},{"age":"25-48 mo.","band":"Fast","t":318,"v":51},{"age":"25-48 mo.","band":"Fast","t":324,"v":39},{"age":"25-48 mo.","band":"Fast","t":330,"v":-41},{"age":"25-48 mo.","band":"Fast","t":336,"v":-11},{"age":"25-48 mo.","band":"Fast","t":342,"v":9},{"age":"25-48 mo.","band":"Fast","t":348,"v":-71},{"age":"25-48 mo.","band":"Fast","t":354,"v":-16},{"age":"25-48 mo.","band":"Fast","t":358,"v":21},{"age":"25-48 mo.","band":"Fast","t":363,"v":-21},{"age":"25-48 mo.","band":"Fast","t":368,"v":-81},{"age":"25-48 mo.","band":"Fast","t":374,"v":-16},{"age":"25-48 mo.","band":"Fast","t":378,"v":17},{"age":"25-48 mo.","band":"Fast","t":383,"v":-21},{"age":"25-48 mo.","band":"Fast","t":388,"v":-83},{"age":"25-48 mo.","band":"Fast","t":393,"v":-16},{"age":"25-48 mo.","band":"Fast","t":398,"v":11},{"age":"25-48 mo.","band":"Fast","t":403,"v":-31},{"age":"25-48 mo.","band":"Fast","t":408,"v":-86},{"age":"25-48 mo.","band":"Fast","t":413,"v":-21},{"age":"25-48 mo.","band":"Fast","t":418,"v":9},{"age":"25-48 mo.","band":"Fast","t":423,"v":-31},{"age":"25-48 mo.","band":"Fast","t":428,"v":-86},{"age":"25-48 mo.","band":"Fast","t":433,"v":-26},{"age":"25-48 mo.","band":"Fast","t":438,"v":11},{"age":"25-48 mo.","band":"Fast","t":443,"v":-21},{"age":"25-48 mo.","band":"Fast","t":450,"v":-81},{"age":"25-48 mo.","band":"Fast","t":455,"v":9},{"age":"25-48 mo.","band":"Fast","t":462,"v":19},{"age":"25-48 mo.","band":"Fast","t":468,"v":9},{"age":"25-48 mo.","band":"Fast","t":474,"v":-1},{"age":"25-48 mo.","band":"Fast","t":480,"v":-83},{"age":"25-48 mo.","band":"Fast","t":488,"v":-21},{"age":"25-48 mo.","band":"Fast","t":495,"v":-1},{"age":"25-48 mo.","band":"Fast","t":503,"v":29},{"age":"25-48 mo.","band":"Fast","t":510,"v":19},{"age":"25-48 mo.","band":"Fast","t":518,"v":39},{"age":"25-48 mo.","band":"Fast","t":525,"v":61},{"age":"25-48 mo.","band":"Fast","t":530,"v":49},{"age":"25-48 mo.","band":"Fast","t":536,"v":24},{"age":"25-48 mo.","band":"Fast","t":543,"v":9},{"age":"25-48 mo.","band":"Fast","t":550,"v":34},{"age":"25-48 mo.","band":"Fast","t":557,"v":41},{"age":"25-48 mo.","band":"Fast","t":565,"v":9},{"age":"25-48 mo.","band":"Fast","t":572,"v":-36},{"age":"25-48 mo.","band":"Fast","t":578,"v":-51},{"age":"25-48 mo.","band":"Fast","t":585,"v":-59},{"age":"25-48 mo.","band":"Fast","t":592,"v":-51},{"age":"25-48 mo.","band":"Fast","t":598,"v":-46},{"age":"25-48 mo.","band":"Fast","t":605,"v":-63},{"age":"25-48 mo.","band":"Fast","t":612,"v":-51},{"age":"25-48 mo.","band":"Fast","t":620,"v":-56},{"age":"25-48 mo.","band":"Fast","t":628,"v":-46},{"age":"25-48 mo.","band":"Fast","t":636,"v":-41},{"age":"25-48 mo.","band":"Fast","t":645,"v":-56},{"age":"25-48 mo.","band":"Fast","t":652,"v":-66},{"age":"25-48 mo.","band":"Fast","t":660,"v":-81},{"age":"25-48 mo.","band":"Fast","t":668,"v":-96},{"age":"25-48 mo.","band":"Fast","t":676,"v":-93},{"age":"25-48 mo.","band":"Fast","t":684,"v":-91},{"age":"25-48 mo.","band":"Fast","t":692,"v":-81},{"age":"25-48 mo.","band":"Fast","t":700,"v":-66},{"age":"25-48 mo.","band":"Fast","t":708,"v":-41},{"age":"25-48 mo.","band":"Fast","t":715,"v":9},{"age":"25-48 mo.","band":"Fast","t":722,"v":34},{"age":"25-48 mo.","band":"Fast","t":728,"v":24},{"age":"25-48 mo.","band":"Fast","t":735,"v":4},{"age":"25-48 mo.","band":"Fast","t":742,"v":1},{"age":"25-48 mo.","band":"Fast","t":750,"v":-6},{"age":"25-48 mo.","band":"Fast","t":758,"v":-21},{"age":"25-48 mo.","band":"Fast","t":765,"v":-51},{"age":"25-48 mo.","band":"Fast","t":772,"v":-66},{"age":"25-48 mo.","band":"Fast","t":779,"v":-36},{"age":"25-48 mo.","band":"Fast","t":785,"v":-6},{"age":"25-48 mo.","band":"Fast","t":790,"v":9},{"age":"25-48 mo.","band":"Fast","t":797,"v":-11},{"age":"25-48 mo.","band":"Fast","t":804,"v":-19},{"age":"25-48 mo.","band":"Fast","t":810,"v":-26},{"age":"25-48 mo.","band":"Fast","t":816,"v":-41},{"age":"25-48 mo.","band":"Fast","t":822,"v":-36},{"age":"25-48 mo.","band":"Fast","t":828,"v":-26},{"age":"25-48 mo.","band":"Fast","t":834,"v":-36},{"age":"25-48 mo.","band":"Fast","t":840,"v":-31},{"age":"25-48 mo.","band":"Fast","t":846,"v":-31},{"age":"25-48 mo.","band":"Fast","t":852,"v":-41},{"age":"25-48 mo.","band":"Fast","t":858,"v":-66},{"age":"25-48 mo.","band":"Fast","t":864,"v":-81},{"age":"25-48 mo.","band":"Fast","t":868,"v":-89}
]},
"spacing": 7,
"hconcat": [
{
"data": {"name": "eeg"},
"transform": [{"filter": "datum.band == 'Slow'"}],
"facet": {
"row": {"field": "age", "type": "nominal", "sort": ["0-3 mo.", "4-12 mo.", "13-24 mo.", "25-48 mo."], "title": null, "header": {"labels": false, "title": null}},
"column": {"field": "band", "type": "nominal", "title": null, "header": {"title": null, "labelExpr": "datum.value + ' Spindles'"}}
},
"spacing": {"row": 45, "column": 0},
"bounds": "flush",
"spec": {
"width": 300, "height": 110,
"layer": [
{"transform": [{"filter": "isValid(datum.v)"}],
"mark": {"type": "line", "color": "#1e1e1e", "strokeWidth": 1.2},
"encoding": {
"x": {"field": "t", "type": "quantitative", "scale": {"domain": [21, 921], "nice": false, "zero": false}, "axis": null},
"y": {"field": "v", "type": "quantitative", "scale": {"domain": [-165, 165], "nice": false, "zero": false}, "axis": null}}},
{"transform": [{"filter": "isValid(datum.hz)"}],
"mark": {"type": "text", "align": "right", "baseline": "middle", "font": "Liberation Sans", "fontSize": 15, "color": "#333"},
"encoding": {
"x": {"datum": 861, "type": "quantitative", "scale": {"domain": [21, 921], "nice": false, "zero": false}},
"y": {"datum": -156, "type": "quantitative", "scale": {"domain": [-165, 165], "nice": false, "zero": false}},
"text": {"field": "hz"}}},
{"transform": [{"filter": "isValid(datum.hz)"}],
"mark": {"type": "text", "align": "left", "baseline": "middle", "font": "Open Sans", "fontWeight": "bold", "fontSize": 19, "color": "#111"},
"encoding": {
"x": {"datum": -291, "type": "quantitative", "scale": {"domain": [21, 921], "nice": false, "zero": false}},
"y": {"datum": 0, "type": "quantitative", "scale": {"domain": [-165, 165], "nice": false, "zero": false}},
"text": {"field": "age"}}},
{"transform": [{"filter": "isValid(datum.bar)"}],
"mark": {"type": "rule", "color": "#333", "strokeWidth": 1},
"encoding": {
"x": {"datum": 288, "type": "quantitative", "scale": {"domain": [21, 921], "nice": false, "zero": false}},
"x2": {"datum": 564},
"y": {"datum": -240, "type": "quantitative", "scale": {"domain": [-165, 165], "nice": false, "zero": false}}}},
{"transform": [{"filter": "isValid(datum.bar)"}],
"mark": {"type": "text", "align": "center", "baseline": "middle", "font": "Liberation Sans", "fontSize": 15, "color": "#333"},
"encoding": {
"x": {"datum": 426, "type": "quantitative", "scale": {"domain": [21, 921], "nice": false, "zero": false}},
"y": {"datum": -288, "type": "quantitative", "scale": {"domain": [-165, 165], "nice": false, "zero": false}},
"text": {"field": "bar"}}}
]
}
},
{
"data": {"name": "eeg"},
"transform": [{"filter": "datum.band == 'Fast'"}],
"facet": {
"row": {"field": "age", "type": "nominal", "sort": ["0-3 mo.", "4-12 mo.", "13-24 mo.", "25-48 mo."], "title": null, "header": {"labels": false, "title": null}},
"column": {"field": "band", "type": "nominal", "title": null, "header": {"title": null, "labelExpr": "datum.value + ' Spindles'"}}
},
"spacing": {"row": 45, "column": 0},
"bounds": "flush",
"spec": {
"width": 264, "height": 110,
"layer": [
{"transform": [{"filter": "isValid(datum.v)"}],
"mark": {"type": "line", "color": "#1e1e1e", "strokeWidth": 1.2},
"encoding": {
"x": {"field": "t", "type": "quantitative", "scale": {"domain": [24, 816], "nice": false, "zero": false}, "axis": null},
"y": {"field": "v", "type": "quantitative", "scale": {"domain": [-165, 165], "nice": false, "zero": false}, "axis": null}}},
{"transform": [{"filter": "isValid(datum.hz)"}],
"mark": {"type": "text", "align": "right", "baseline": "middle", "font": "Liberation Sans", "fontSize": 15, "color": "#333"},
"encoding": {
"x": {"datum": 875, "type": "quantitative", "scale": {"domain": [24, 816], "nice": false, "zero": false}},
"y": {"datum": -156, "type": "quantitative", "scale": {"domain": [-165, 165], "nice": false, "zero": false}},
"text": {"field": "hz"}}},
{"transform": [{"filter": "isValid(datum.bar)"}],
"mark": {"type": "rule", "color": "#333", "strokeWidth": 1},
"encoding": {
"x": {"datum": 285, "type": "quantitative", "scale": {"domain": [24, 816], "nice": false, "zero": false}},
"x2": {"datum": 573},
"y": {"datum": -240, "type": "quantitative", "scale": {"domain": [-165, 165], "nice": false, "zero": false}}}},
{"transform": [{"filter": "isValid(datum.bar)"}],
"mark": {"type": "text", "align": "center", "baseline": "middle", "font": "Liberation Sans", "fontSize": 15, "color": "#333"},
"encoding": {
"x": {"datum": 429, "type": "quantitative", "scale": {"domain": [24, 816], "nice": false, "zero": false}},
"y": {"datum": -288, "type": "quantitative", "scale": {"domain": [-165, 165], "nice": false, "zero": false}},
"text": {"field": "bar"}}}
]
}
}
]
}
